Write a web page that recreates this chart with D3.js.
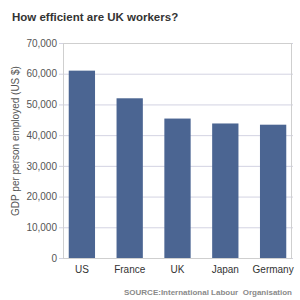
<!DOCTYPE html>
<html>
<head>
<meta charset="utf-8">
<script src="https://cdn.jsdelivr.net/npm/d3@7"></script>
<style>
  body { margin: 0; background: #fff; }
  svg { display: block; font-family: "Liberation Sans", Arial, sans-serif; }
</style>
</head>
<body>
<svg id="chart"></svg>
<script>
//// DATA
const countries = ["US", "France", "UK", "Japan", "Germany"];
const gdpPerWorker = [61000, 52000, 45400, 43800, 43400];
const yTicks = [0, 10000, 20000, 30000, 40000, 50000, 60000, 70000];

//// SETTINGS
const width = 300;
const height = 300;
const plot = { left: 63, right: 292, top: 43, bottom: 258 };
const barColor = "#4b6592";

const svg = d3.select("#chart").attr("width", width).attr("height", height);

const x = d3.scaleBand()
    .domain(countries)
    .range([plot.left, plot.right])
    .paddingInner(0.45)
    .paddingOuter(0.12);

const y = d3.scaleLinear()
    .domain([0, 70000])
    .range([plot.bottom, plot.top]);

// title
svg.append("text")
    .attr("x", 12)
    .attr("y", 21)
    .attr("font-size", 11.5)
    .attr("font-weight", "bold")
    .attr("fill", "#333")
    .text("How efficient are UK workers?");

// gridlines + y ticks
const yAxis = svg.append("g")
    .attr("transform", `translate(${plot.left},0)`)
    .call(d3.axisLeft(y)
        .tickValues(yTicks)
        .tickSize(-(plot.right - plot.left + 1))
        .tickSizeOuter(0)
        .tickPadding(6)
        .tickFormat(d3.format(",")));
yAxis.select(".domain").remove();
yAxis.selectAll(".tick line")
    .attr("x1", -4)
    .attr("stroke", "#d3d3e2");
yAxis.selectAll(".tick text")
    .attr("font-size", 10)
    .attr("fill", "#555")
    .attr("font-family", "Liberation Sans, Arial, sans-serif");

// plot border
svg.append("rect")
    .attr("x", plot.left + 0.5)
    .attr("y", plot.top + 0.5)
    .attr("width", plot.right - plot.left - 1)
    .attr("height", plot.bottom - plot.top)
    .attr("fill", "none")
    .attr("stroke", "#cfcfcf");

// bars
svg.append("g")
    .selectAll("rect")
    .data(countries)
    .enter()
    .append("rect")
    .attr("x", d => x(d))
    .attr("y", (d, i) => y(gdpPerWorker[i]))
    .attr("width", x.bandwidth())
    .attr("height", (d, i) => y(0) - y(gdpPerWorker[i]))
    .attr("fill", barColor);

// x labels
const xAxis = svg.append("g")
    .attr("transform", `translate(0,${plot.bottom})`)
    .call(d3.axisBottom(x).tickSize(0).tickPadding(8));
xAxis.select(".domain").remove();
xAxis.selectAll(".tick text")
    .attr("font-size", 10)
    .attr("fill", "#333")
    .attr("font-family", "Liberation Sans, Arial, sans-serif");

// y axis label
svg.append("text")
    .attr("transform", "translate(19,141) rotate(-90)")
    .attr("text-anchor", "middle")
    .attr("font-size", 10)
    .attr("fill", "#555")
    .text("GDP per person employed (US $)");

// source
svg.append("text")
    .attr("x", 292)
    .attr("y", 295)
    .attr("text-anchor", "end")
    .attr("font-size", 8)
    .attr("font-weight", "bold")
    .attr("fill", "#8a8a8a")
    .style("white-space", "pre")
    .text("SOURCE:International Labour  Organisation");
</script>
</body>
</html>
